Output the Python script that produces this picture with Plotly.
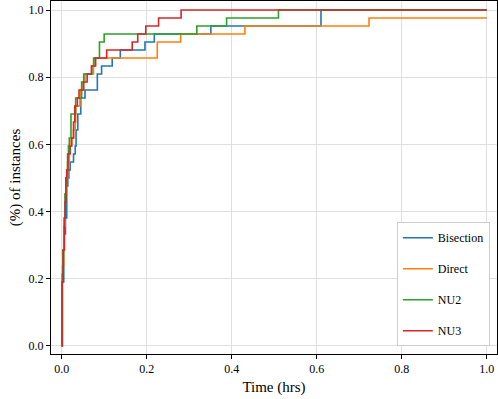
import plotly.graph_objects as go

# ----------------------------- Data (solve times, hrs) -----------------------------
# one entry per solved instance, 42 instances in total
n_instances = 42

bisection_times = [
    0.002, 0.002, 0.002, 0.002, 0.002, 0.002, 0.002, 0.002,
    0.005, 0.005, 0.005, 0.005, 0.005, 0.005,
    0.009, 0.009, 0.012, 0.012, 0.012, 0.012, 0.0145,
    0.017, 0.020, 0.028, 0.032, 0.034, 0.034, 0.038, 0.038,
    0.045, 0.045, 0.055, 0.084, 0.084, 0.094, 0.119, 0.138,
    0.196, 0.218, 0.351, 0.610, 0.610,
]
direct_times = [
    0.001, 0.001, 0.001, 0.001, 0.001, 0.001, 0.001, 0.001, 0.001,
    0.002, 0.005, 0.005, 0.005, 0.005, 0.005,
    0.008, 0.008, 0.008, 0.008, 0.011, 0.011, 0.014, 0.014,
    0.018, 0.018, 0.022, 0.028, 0.032, 0.033, 0.033,
    0.043, 0.045, 0.050, 0.055, 0.075, 0.075, 0.225, 0.225,
    0.280, 0.431, 0.723,
]
nu2_times = [
    0.001, 0.001, 0.001, 0.001, 0.001, 0.001, 0.001, 0.001,
    0.002, 0.003, 0.003, 0.003, 0.006, 0.006, 0.006, 0.006,
    0.008, 0.008, 0.008, 0.010, 0.010, 0.012, 0.014, 0.014,
    0.016, 0.018, 0.022, 0.022, 0.022, 0.033, 0.033,
    0.047, 0.047, 0.052, 0.071, 0.076, 0.089, 0.089, 0.100,
    0.318, 0.388, 0.510,
]
nu3_times = [
    0.001, 0.001, 0.001, 0.001, 0.001, 0.001, 0.001, 0.001,
    0.0035, 0.0035, 0.0035, 0.0035, 0.0066, 0.0066, 0.0066, 0.0066,
    0.008, 0.008, 0.010, 0.010, 0.010, 0.012, 0.015, 0.015,
    0.020, 0.024, 0.028, 0.028, 0.031, 0.031, 0.037, 0.041,
    0.052, 0.060, 0.070, 0.080, 0.106, 0.166, 0.179, 0.198,
    0.228, 0.281,
]

series_names = ['Bisection', 'Direct', 'NU2', 'NU3']
series_times = [bisection_times, direct_times, nu2_times, nu3_times]
series_colors = ['#1f77b4', '#ff7f0e', '#2ca02c', '#d62728']
time_limit = 1.0

x_ticks = [0.0, 0.2, 0.4, 0.6, 0.8, 1.0]
y_ticks = [0.0, 0.2, 0.4, 0.6, 0.8, 1.0]

FONT = 'Liberation Serif'

# ----------------------------- Build ECDF step curves -----------------------------
fig = go.Figure()
for name, times, color in zip(series_names, series_times, series_colors):
    xs = [0.0] + sorted(times) + [time_limit]
    ys = [0.0] + [(i + 1) / n_instances for i in range(len(times))] + [len(times) / n_instances]
    fig.add_trace(go.Scatter(
        x=xs, y=ys, mode='lines', name=name,
        line=dict(color=color, width=1.6, shape='hv'),
        legendgroup=name,
    ))

axis_common = dict(
    showline=True, linecolor='black', linewidth=1, mirror=True,
    ticks='outside', ticklen=4, tickcolor='black',
    showgrid=True, gridcolor='#dfdfdf', gridwidth=1,
    zeroline=False, tickformat='.1f', automargin=False,
    tickfont=dict(family=FONT, size=12, color='black'),
)

fig.update_xaxes(range=[-0.025, 1.024], tickvals=x_ticks,
                 title=dict(text='Time (hrs)', font=dict(family=FONT, size=15, color='black'), standoff=6),
                 **axis_common)
fig.update_yaxes(range=[-0.024, 1.027], tickvals=y_ticks,
                 title=dict(text='(%) of instances', font=dict(family=FONT, size=15, color='black'), standoff=4),
                 **axis_common)

fig.update_layout(
    width=498, height=399,
    template='plotly_white',
    plot_bgcolor='white', paper_bgcolor='white',
    margin=dict(l=51, r=1, t=1, b=45),
    legend=dict(
        x=0.984, y=0.022, xanchor='right', yanchor='bottom',
        bgcolor='white', bordercolor='#cccccc', borderwidth=1,
        font=dict(family=FONT, size=12, color='black'),
        traceorder='grouped', tracegroupgap=12, itemwidth=30,
    ),
)

# page body has a default 8px margin; drop it so the figure fills the window
fig.write_html("out.html", config={'displayModeBar': False},
               post_script="document.body.style.margin='0';")
